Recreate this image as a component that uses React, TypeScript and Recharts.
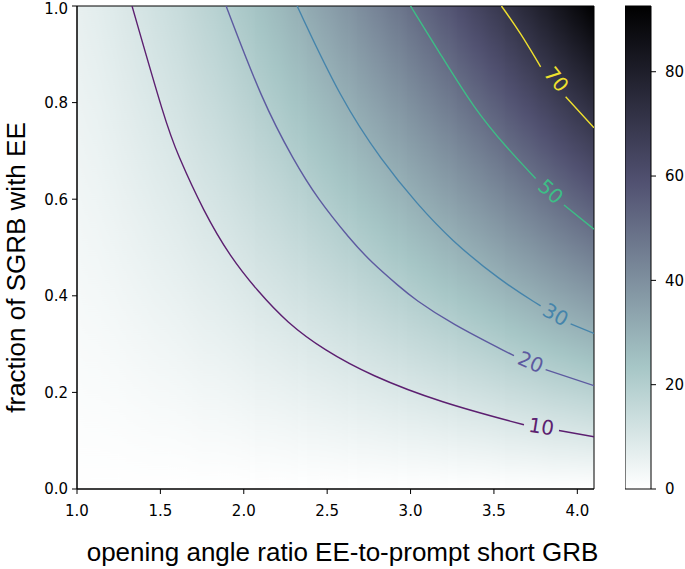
import React from 'react';
import { ComposedChart, Line, Scatter, XAxis, YAxis, ReferenceArea } from 'recharts';

// value at the top edge (y = 1) of each heat-map column
const colX = [1.0, 1.1, 1.2, 1.3, 1.4, 1.5, 1.6, 1.7, 1.8, 1.9, 2.0, 2.1, 2.2, 2.3, 2.4, 2.5,
  2.6, 2.7, 2.8, 2.9, 3.0, 3.1, 3.2, 3.3, 3.4, 3.5, 3.6, 3.7, 3.8, 3.9, 4.0, 4.1];
const colTop = [6, 7.2, 8.4, 9.8, 11.3, 12.9, 14.6, 16.4, 18.3, 20.4, 22.5, 24.8, 27.1, 29.6, 32.2, 34.9,
  37.7, 40.6, 43.6, 46.8, 50, 53.4, 56.8, 60.4, 64.1, 67.9, 71.8, 75.8, 79.9, 84.2, 88.5, 92.6];
const VMAX = 92.6;

// contour lines [x, y]; null marks the gap left for the inline label
const contour10 = [[1.33, 1.0], [1.53, 0.76], [1.6, 0.695], [1.76, 0.574], [1.92, 0.48], [2.08, 0.411],
  [2.26, 0.344], [2.48, 0.288], [2.76, 0.235], [3.18, 0.179], [3.68, 0.133], null, [3.89, 0.121], [4.1, 0.108]];
const contour20 = [[1.894, 1.0], [2.11, 0.804], [2.3, 0.68], [2.44, 0.602], [2.64, 0.516], [2.76, 0.471],
  [2.94, 0.417], [3.02, 0.394], [3.24, 0.343], [3.62, 0.276], null, [3.81, 0.247], [4.1, 0.214]];
const contour30 = [[2.32, 1.0], [2.58, 0.808], [2.83, 0.678], [3.04, 0.59], [3.24, 0.516], [3.54, 0.431],
  [3.78, 0.379], null, [3.96, 0.342], [4.1, 0.322]];
const contour50 = [[3.0, 1.0], [3.18, 0.9], [3.38, 0.788], [3.58, 0.705], [3.75, 0.643], null,
  [3.92, 0.588], [4.1, 0.538]];
const contour70 = [[3.545, 1.0], [3.66, 0.944], [3.78, 0.874], null, [3.93, 0.812], [4.1, 0.748]];

const levels = ['10', '20', '30', '50', '70'];
const labelX = [3.785, 3.72, 3.87, 3.84, 3.875];
const labelY = [0.129, 0.263, 0.361, 0.616, 0.848];

const xTicks = [1.0, 1.5, 2.0, 2.5, 3.0, 3.5, 4.0];
const yTicks = [0, 0.2, 0.4, 0.6, 0.8, 1.0];
const cbarTicks = [0, 20, 40, 60, 80];

const lineColors = ['#5c1f70', '#5d5aa0', '#4584ab', '#3dbe86', '#efe02e'];
const labelAngles = [9, 23, 29, 42, 51];

const contours = [contour10, contour20, contour30, contour50, contour70].map((c) =>
  c.map((p, i) => (p ? { x: p[0], y: p[1] } : { x: (c[i - 1][0] + c[i + 1][0]) / 2, y: null })),
);
const labelPts = levels.map((t, i) => ({ x: labelX[i], y: labelY[i], text: t, idx: i }));
const cbarData = [{ x: 0 }, { x: 1 }];

// bone_r colormap
const bone: [number, number[]][] = [
  [0, [255, 255, 255]],
  [0.253968, [166, 198, 198]],
  [0.634921, [81, 81, 113]],
  [1, [0, 0, 0]],
];
function cmap(t: number) {
  t = Math.max(0, Math.min(1, t));
  for (let i = 1; i < bone.length; i++) {
    if (t <= bone[i][0]) {
      const [t0, c0] = bone[i - 1];
      const [t1, c1] = bone[i];
      const f = (t - t0) / (t1 - t0);
      const c = c0.map((v, k) => Math.round(v + (c1[k] - v) * f));
      return `rgb(${c[0]},${c[1]},${c[2]})`;
    }
  }
  return 'rgb(0,0,0)';
}

const tickFont = { fontSize: 15, fontFamily: 'DejaVu Sans', fill: '#000' };
const titleFont = 'Liberation Sans';

function HeatShape(props: any) {
  const { x, y, width, height } = props;
  const x0 = 1.0;
  const x1 = 4.1;
  const sx = (v: number) => x + ((v - x0) / (x1 - x0)) * width;
  const last = colX.length - 1;
  return (
    <g>
      <defs>
        <clipPath id="heatClip">
          <rect x={x} y={y} width={width} height={height} />
        </clipPath>
        <filter id="heatBlur" x="-0.05" y="0" width="1.1" height="1" colorInterpolationFilters="sRGB">
          <feGaussianBlur stdDeviation="6 0" />
        </filter>
        {colX.map((cx, i) => {
          const v = colTop[i];
          const stops = [{ o: 0, c: cmap(0) }];
          [0.253968, 0.634921].forEach((b) => {
            if (b * VMAX < v) stops.push({ o: (b * VMAX) / v, c: cmap(b) });
          });
          stops.push({ o: 1, c: cmap(v / VMAX) });
          return (
            <linearGradient key={i} id={`hc${i}`} x1="0" y1="1" x2="0" y2="0">
              {stops.map((s, k) => (
                <stop key={k} offset={s.o} stopColor={s.c} />
              ))}
            </linearGradient>
          );
        })}
      </defs>
      <g clipPath="url(#heatClip)">
        <g filter="url(#heatBlur)">
          {colX.map((cx, i) => {
            const l = sx(i === 0 ? cx - 0.2 : cx - 0.05);
            const r = sx(i === last ? cx + 0.2 : cx + 0.05);
            return <rect key={i} x={l} y={y} width={r - l + 0.6} height={height} fill={`url(#hc${i})`} />;
          })}
        </g>
      </g>
    </g>
  );
}

function ContourLabel(props: any) {
  const { cx, cy, payload } = props;
  if (cx == null || cy == null) return null;
  const i = payload.idx;
  return (
    <text
      x={cx}
      y={cy}
      transform={`rotate(${labelAngles[i]}, ${cx}, ${cy})`}
      textAnchor="middle"
      dominantBaseline="central"
      fill={lineColors[i]}
      fontSize={20}
      fontFamily="DejaVu Sans"
    >
      {payload.text}
    </text>
  );
}

function YTitle(props: any) {
  const vb = props.viewBox || { x: 0, y: 6, width: 77, height: 483 };
  const cy = vb.y + vb.height / 2 + 20;
  const tx = 16;
  return (
    <text x={tx} y={cy} transform={`rotate(-90, ${tx}, ${cy})`} textAnchor="middle" dominantBaseline="central"
      fontSize={26} fontFamily={titleFont} fill="#000">
      fraction of SGRB with EE
    </text>
  );
}

function XTitle(props: any) {
  const vb = props.viewBox || { x: 77, y: 489, width: 517, height: 80 };
  const cx = vb.x + vb.width / 2 + 7;
  return (
    <text x={cx} y={561} textAnchor="middle" fontSize={26} fontFamily={titleFont} fill="#000">
      opening angle ratio EE-to-prompt short GRB
    </text>
  );
}

export default function App() {
  return (
    <div style={{ position: 'absolute', left: 0, top: 0, width: 685, height: 569, background: '#fff' }}>
      <div style={{ position: 'absolute', left: 0, top: 0 }}>
        <ComposedChart width={685} height={569} margin={{ top: 6, right: 91, bottom: 0, left: 0 }}>
          <XAxis
            type="number"
            dataKey="x"
            domain={[1, 4.1]}
            allowDataOverflow
            ticks={xTicks}
            tickFormatter={(v: number) => v.toFixed(1)}
            tick={tickFont}
            tickSize={5}
            tickMargin={11}
            height={80}
            axisLine={{ stroke: '#000' }}
            tickLine={{ stroke: '#000' }}
            label={<XTitle />}
          />
          <YAxis
            type="number"
            dataKey="y"
            domain={[0, 1]}
            allowDataOverflow
            ticks={yTicks}
            tickFormatter={(v: number) => v.toFixed(1)}
            tick={tickFont}
            tickSize={5}
            tickMargin={4}
            width={77}
            axisLine={{ stroke: '#000' }}
            tickLine={{ stroke: '#000' }}
            label={<YTitle />}
          />
          <ReferenceArea x1={1} x2={4.1} y1={0} y2={1} ifOverflow="visible" shape={<HeatShape />} />
          {contours.map((c, i) => (
            <Line
              key={levels[i]}
              data={c}
              dataKey="y"
              type="basis"
              stroke={lineColors[i]}
              strokeWidth={1.4}
              dot={false}
              activeDot={false}
              connectNulls={false}
              isAnimationActive={false}
            />
          ))}
          <Scatter data={labelPts} dataKey="y" shape={<ContourLabel />} isAnimationActive={false} />
          <ReferenceArea x1={1} x2={4.1} y1={0} y2={1} ifOverflow="visible" fill="none" stroke="#000" strokeWidth={1} />
        </ComposedChart>
      </div>
      <div style={{ position: 'absolute', left: 625, top: 0 }}>
        <ComposedChart data={cbarData} width={60} height={569} margin={{ top: 6, right: 0, bottom: 80, left: 0 }}>
          <defs>
            <linearGradient id="cbarGrad" x1="0" y1="0" x2="0" y2="1">
              <stop offset={0} stopColor={cmap(1)} />
              <stop offset={1 - 0.634921} stopColor={cmap(0.634921)} />
              <stop offset={1 - 0.253968} stopColor={cmap(0.253968)} />
              <stop offset={1} stopColor={cmap(0)} />
            </linearGradient>
          </defs>
          <XAxis type="number" dataKey="x" domain={[0, 1]} allowDataOverflow hide />
          <YAxis
            orientation="right"
            type="number"
            domain={[0, VMAX]}
            allowDataOverflow
            ticks={cbarTicks}
            tick={tickFont}
            tickSize={5}
            tickMargin={9}
            width={34}
            axisLine={false}
            tickLine={{ stroke: '#000' }}
          />
          <ReferenceArea x1={0} x2={1} y1={0} y2={VMAX} ifOverflow="visible" fill="url(#cbarGrad)" fillOpacity={1}
            stroke="#000" strokeWidth={1} />
        </ComposedChart>
      </div>
    </div>
  );
}
